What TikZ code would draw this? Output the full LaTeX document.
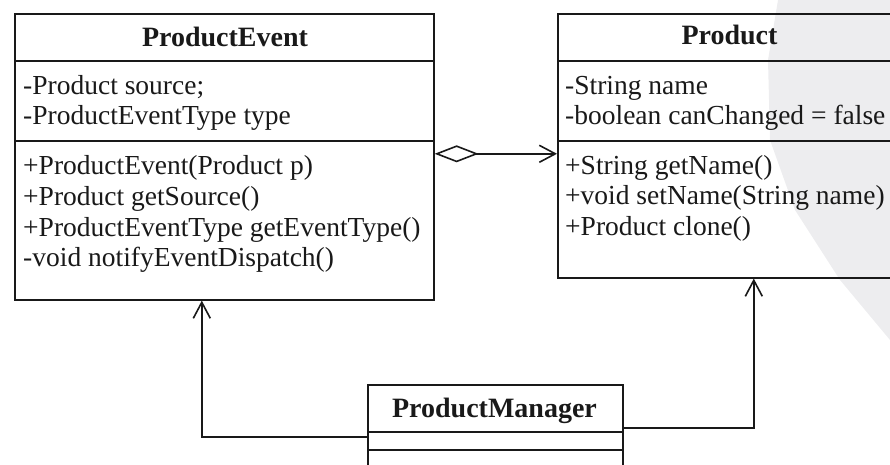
\documentclass[tikz,border=0pt]{standalone}
\usepackage{fontspec}
\setmainfont{Liberation Serif}
\usepackage{xcolor}
\definecolor{umlink}{RGB}{25, 25, 25}
\definecolor{umlmark}{RGB}{237, 237, 239}
\usetikzlibrary{arrows.meta, positioning, calc}

\tikzset{
  classbox/.style={draw=umlink, line width=1.6pt, rectangle, inner sep=0pt, anchor=north west},
  classname/.style={font=\fontsize{28}{30}\selectfont\bfseries, text=umlink, anchor=base},
  member/.style={font=\fontsize{27.5}{30}\selectfont, text=umlink, anchor=base west, inner sep=0pt},
  divider/.style={draw=umlink, line width=1.6pt},
  assoc/.style={draw=umlink, line width=1.6pt, -{Straight Barb[length=16pt, width=17pt, line width=1.6pt]}},
  aggr/.style={draw=umlink, line width=1.6pt, {Diamond[open, length=44pt, width=17pt, line width=1.6pt]}-{Straight Barb[length=16pt, width=17pt, line width=1.6pt]}}
}

\begin{document}
\begin{tikzpicture}[x=1pt, y=-1pt]
  \useasboundingbox (0,0) rectangle (890,465);
  \clip (0,0) rectangle (890,465);
  % faint watermark on the right
  \fill[umlmark] (778,0) -- (768,60) -- (770,140) -- (795,210) -- (840,280) -- (890,340) -- (890,0) -- cycle;

  % ProductEvent class
  \node[classbox, minimum width=419pt, minimum height=286pt] (event) at (14,13) {};
  \draw[divider] (14,61) -- (433,61);
  \draw[divider] (14,141) -- (433,141);
  \node[classname] (eventname) at (225,47) {ProductEvent};
  \foreach \txt [count=\i] in {{-Product source;}, {-ProductEventType type}}
    \node[member] (eventattr\i) at (23,{95+30*(\i-1)}) {\txt};
  \foreach \txt [count=\i] in {{+ProductEvent(Product p)}, {+Product getSource()},
      {+ProductEventType getEventType()}, {-void notifyEventDispatch()}}
    \node[member] (eventop\i) at (23,{175+30.5*(\i-1)}) {\txt};

  % Product class (runs past the right edge)
  \node[classbox, minimum width=345pt, minimum height=264pt] (product) at (557,13) {};
  \draw[divider] (557,61) -- (902,61);
  \draw[divider] (557,141) -- (902,141);
  \node[classname] (productname) at (729.5,45) {Product};
  \foreach \txt [count=\i] in {{-String name}, {-boolean canChanged = false}}
    \node[member] (productattr\i) at (565,{95+30*(\i-1)}) {\txt};
  \foreach \txt [count=\i] in {{+String getName()}, {+void setName(String name)}, {+Product clone()}}
    \node[member] (productop\i) at (565,{174+30.5*(\i-1)}) {\txt};

  % ProductManager class (cut off at the bottom)
  \node[classbox, minimum width=255pt, minimum height=100pt] (manager) at (367,384) {};
  \draw[divider] (367,432) -- (622,432);
  \draw[divider] (367,450) -- (622,450);
  \node[classname] (managername) at (494.5,417) {ProductManager};

  % Relations
  \draw[aggr] ([yshift=3pt]event.east) coordinate (aggstart) -- (aggstart -| product.west);
  \draw[assoc] ([yshift=-2pt]manager.west) -| ([xshift=-22.5pt]event.south);
  \draw[assoc] ([yshift=7pt]manager.east) -| ([xshift=23.5pt]product.south);
\end{tikzpicture}
\end{document}
